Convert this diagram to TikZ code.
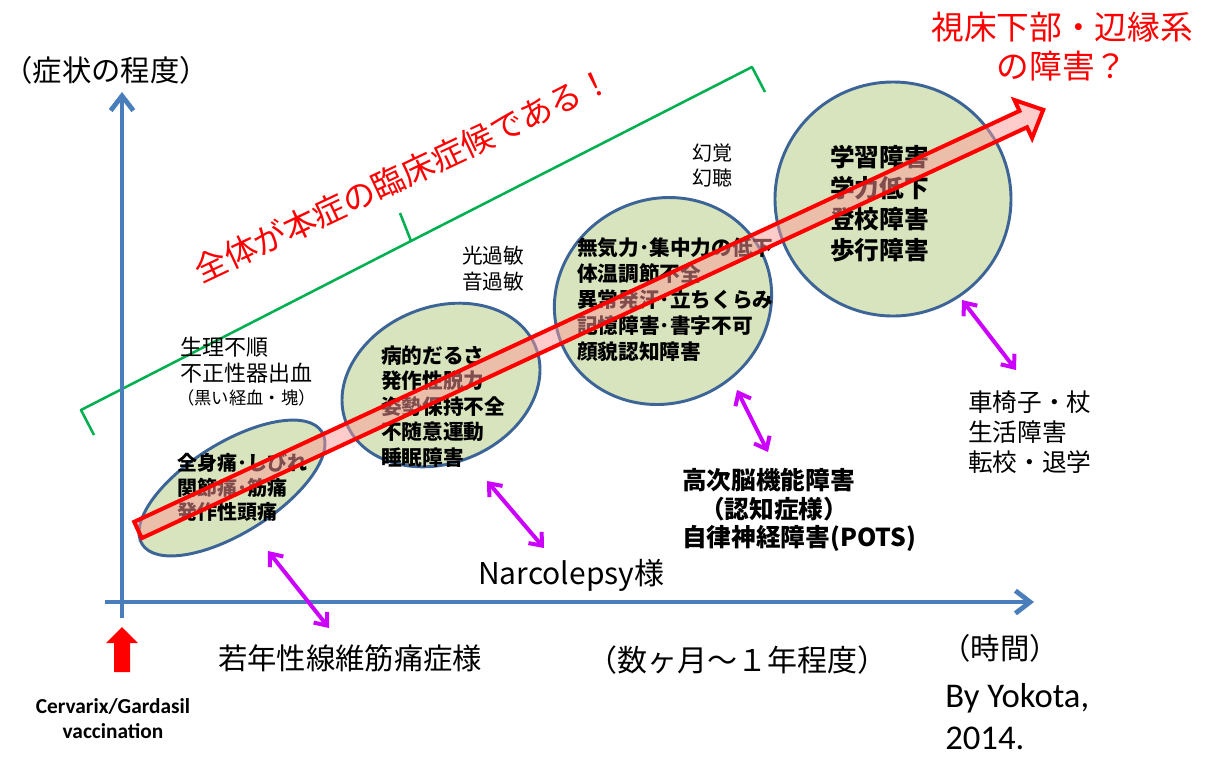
\documentclass[tikz,border=0pt]{standalone}
\usepackage{fontspec}
\setmainfont{Noto Sans CJK JP}
\newfontfamily\calibri{Carlito}
\usetikzlibrary{arrows.meta,shapes.geometric}
\definecolor{axisblue}{HTML}{4A7EBB}
\definecolor{bubblefill}{HTML}{D7E4BD}
\definecolor{bubbleline}{HTML}{3C6496}
\definecolor{bracegreen}{HTML}{00B050}
\definecolor{arrowmag}{HTML}{CC00FF}
\begin{document}
\begin{tikzpicture}[x=0.75pt,y=-0.75pt,
  axis/.style={draw=axisblue, line width=3.6pt, -{Straight Barb[length=11pt,width=17pt]}},
  bubble/.style={ellipse, draw=bubbleline, line width=2.2pt, fill=bubblefill, inner sep=0pt, outer sep=0pt},
  link/.style={draw=arrowmag, line width=3pt, {Straight Barb[length=8pt,width=13pt]}-{Straight Barb[length=8pt,width=13pt]}},
  brace/.style={draw=bracegreen, line width=1.9pt, line join=round},
  lbl/.style={inner sep=0pt, anchor=base west, align=left},
  ctr/.style={inner sep=0pt, anchor=center}]
\useasboundingbox (0,0) rectangle (1206,758);

% green bracket
\coordinate (bl1) at (94,435);
\coordinate (bl0) at (81,410);
\coordinate (bm) at (411,241);
\coordinate (bp) at (400,213);
\coordinate (br0) at (752,67);
\coordinate (br1) at (765,92);
\draw[brace] (bl1) -- (bl0) -- (bm) -- (bp) (bm) -- (br0) -- (br1);

% axes
\coordinate (yb) at (122,618);
\coordinate (yt) at (122,92);
\coordinate (xl) at (105,602);
\coordinate (xr) at (1034,602);
\draw[axis] (yb) -- (yt);
\draw[axis] (xl) -- (xr);

% vaccination arrow
\fill[red] (114,672) -- (114,643) -- (106,643) -- (122,627) -- (138,643) -- (130,643) -- (130,672) -- cycle;

% bubbles
\node[bubble, minimum width=159pt, minimum height=67.5pt, rotate=32] (e1) at (232,488) {};
\node[bubble, minimum width=153pt, minimum height=117pt, rotate=22] (e2) at (441,385) {};
\node[bubble, minimum width=165pt, minimum height=153pt, rotate=25] (e3) at (663,301) {};
\node[bubble, minimum width=177pt, minimum height=175.5pt] (e4) at (893,199) {};

% bubble texts (base = baseline of last line)
\node[lbl, font=\bfseries\fontsize{15}{18.4}\selectfont] (t1) at (177,519.6) {全身痛･しびれ\\関節痛･筋痛\\発作性頭痛};
\node[lbl, font=\bfseries\fontsize{15.5}{19.1}\selectfont] (t2) at (381,465) {病的だるさ\\発作性脱力\\姿勢保持不全\\不随意運動\\睡眠障害};
\node[lbl, font=\bfseries\fontsize{15.5}{19.5}\selectfont] (t3) at (577,359) {無気力･集中力の低下\\体温調節不全\\異常発汗･立ちくらみ\\記憶障害･書字不可\\顔貌認知障害};
\node[lbl, font=\bfseries\fontsize{18.5}{23.25}\selectfont] (t4) at (830,259.5) {学習障害\\学力低下\\登校障害\\歩行障害};

% side labels
\node[lbl, font=\fontsize{16.5}{19.5}\selectfont] (s1) at (180,381.4) {生理不順\\不正性器出血};
\node[lbl, font=\fontsize{13}{15}\selectfont] (s1b) at (177,404.5) {（黒い経血・塊）};
\node[lbl, font=\fontsize{15.5}{19.5}\selectfont] (s2) at (462,289) {光過敏\\音過敏};
\node[lbl, font=\fontsize{15}{18.75}\selectfont] (s3) at (692,185) {幻覚\\幻聴};
\node[lbl, font=\fontsize{18.5}{22.5}\selectfont] (s4) at (968,471) {車椅子・杖\\生活障害\\転校・退学};
\node[lbl, font=\bfseries\fontsize{18.5}{21}\selectfont] (h1) at (682,489.5) {高次脳機能障害};
\node[lbl, font=\bfseries\fontsize{18.5}{21}\selectfont] (h2) at (700,518) {（認知症様）};
\node[lbl, font=\bfseries\fontsize{18.5}{21}\selectfont] (h3) at (682,546.5) {自律神経障害(POTS)};

% bottom labels
\node[inner sep=0pt, anchor=west, font=\fontsize{22.5}{24}\selectfont] (narco) at (478,575) {Narcolepsy様};
\node[inner sep=0pt, anchor=west, font=\fontsize{22}{24}\selectfont] (fibro) at (218,658) {若年性線維筋痛症様};
\node[ctr, font=\fontsize{22.5}{24}\selectfont] (months) at (737,660) {（数ヶ月～１年程度）};
\node[ctr, font=\fontsize{22}{24}\selectfont] (time) at (1000,648) {（時間）};
\node[ctr, font=\fontsize{22}{26}\selectfont] (degree) at (106,70) {（症状の程度）};
\node[ctr, text=red, font=\fontsize{24.5}{28}\selectfont] (hypo1) at (1062,27) {視床下部・辺縁系};
\node[ctr, text=red, font=\fontsize{24.5}{28}\selectfont] (hypo2) at (1062,66) {の障害？};
\node[inner sep=0pt, anchor=base, align=center, font=\calibri\bfseries\fontsize{16}{18.75}\selectfont] (vac) at (113,738) {Cervarix/Gardasil\\vaccination};
\node[lbl, font=\calibri\fontsize{26}{31.5}\selectfont] (by) at (945,749) {By Yokota,\\2014.};

% magenta links
\coordinate (a1s) at (268,551);
\coordinate (a1e) at (329,628);
\coordinate (a2s) at (487,481);
\coordinate (a2e) at (544,548);
\coordinate (a3s) at (737,390);
\coordinate (a3e) at (768,452);
\coordinate (a4s) at (962,300);
\coordinate (a4e) at (1016,370);
\draw[link] (a1s) -- (a1e);
\draw[link] (a2s) -- (a2e);
\draw[link] (a3s) -- (a3e);
\draw[link] (a4s) -- (a4e);

% big progression arrow
\begin{scope}[shift={(138,530)}, rotate=24.9]
  \draw[red, line width=3pt, fill=red!40, fill opacity=0.5, line join=miter]
    (0,-9) -- (976,-9) -- (976,-21) -- (998,0) -- (976,21) -- (976,9) -- (0,9) -- cycle;
\end{scope}

% rotated claim
\node[ctr, rotate=25.3, text=red, font=\fontsize{24.5}{28}\selectfont] (claim) at (403,175) {全体が本症の臨床症候である！};
\end{tikzpicture}
\end{document}
